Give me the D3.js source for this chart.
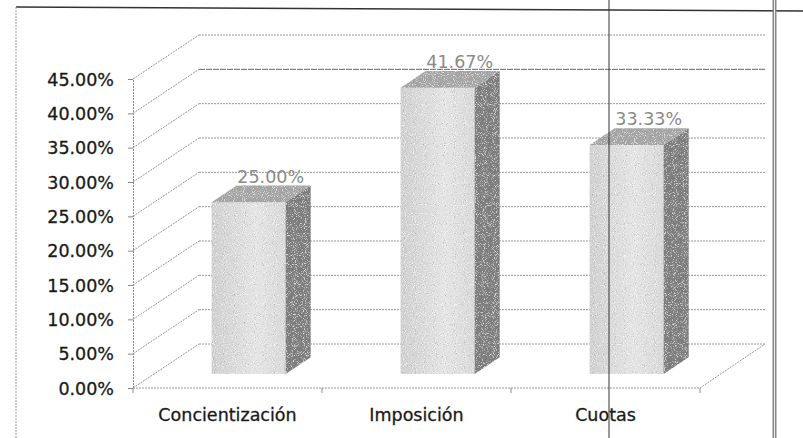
<!DOCTYPE html>
<html>
<head>
<meta charset="utf-8">
<script src="https://cdn.jsdelivr.net/npm/d3@7"></script>
<style>
  body { margin: 0; background: #fff; }
  text { font-family: "DejaVu Sans", sans-serif; }
</style>
</head>
<body>
<div id="wrapper"></div>
<script>
// data
const categories = ["Concientización", "Imposición", "Cuotas"]
const values = [0.25, 0.4167, 0.3333]
const valueLabels = ["25.00%", "41.67%", "33.33%"]
const yTicks = [0, 0.05, 0.10, 0.15, 0.20, 0.25, 0.30, 0.35, 0.40, 0.45]

const width = 803
const height = 438

// 3d depth offset of the back wall
const depth = { dx: 66, dy: -44 }
const barFront = 0.32, barBack = 0.70
const barHalf = 37

const svg = d3.select("#wrapper").append("svg")
  .attr("width", width)
  .attr("height", height)

const defs = svg.append("defs")

// speckle filter to look like the scanned halftone
const f = defs.append("filter").attr("id", "stipple")
  .attr("x", 0).attr("y", 0).attr("width", 1).attr("height", 1)
f.append("feTurbulence").attr("type", "fractalNoise")
  .attr("baseFrequency", 1.1).attr("numOctaves", 1).attr("seed", 3).attr("result", "noise")
f.append("feColorMatrix").attr("in", "noise").attr("type", "matrix")
  .attr("values", "0 0 0 0 1  0 0 0 0 1  0 0 0 0 1  3 0 0 0 -1.6")
  .attr("result", "light")
f.append("feColorMatrix").attr("in", "noise").attr("type", "matrix")
  .attr("values", "0 0 0 0 0.3  0 0 0 0 0.3  0 0 0 0 0.3  -3 0 0 0 1.2")
  .attr("result", "dark")
f.append("feComposite").attr("in", "light").attr("in2", "SourceGraphic").attr("operator", "in").attr("result", "l2")
f.append("feComposite").attr("in", "dark").attr("in2", "SourceGraphic").attr("operator", "in").attr("result", "d2")
const fm = f.append("feMerge")
fm.append("feMergeNode").attr("in", "SourceGraphic")
fm.append("feMergeNode").attr("in", "l2")
fm.append("feMergeNode").attr("in", "d2")

const frontGrad = defs.append("linearGradient").attr("id", "frontGrad")
  .attr("x1", 0).attr("x2", 1).attr("y1", 0).attr("y2", 0)
frontGrad.append("stop").attr("offset", "0%").attr("stop-color", "#cfcfcf")
frontGrad.append("stop").attr("offset", "60%").attr("stop-color", "#e4e4e4")
frontGrad.append("stop").attr("offset", "100%").attr("stop-color", "#d8d8d8")

// scales
const x = d3.scaleBand()
  .domain(categories)
  .range([133, 700])
  .padding(0)

const y = d3.scaleLinear()
  .domain([0, 0.45])
  .range([388, 79])

const gridColor = "#8a8a8a"

// back walls and gridlines
const grid = svg.append("g")
grid.selectAll(".wall")
  .data(yTicks)
  .join("polyline")
  .attr("class", "wall")
  .attr("points", d => {
    const y0 = y(d)
    return [[133, y0], [133 + depth.dx, y0 + depth.dy]].map(p => p.join(",")).join(" ")
  })
  .attr("fill", "none")
  .attr("stroke", gridColor)
  .attr("stroke-width", 0.9)
  .attr("stroke-dasharray", "2,1")

grid.selectAll(".back")
  .data(yTicks)
  .join("line")
  .attr("class", "back")
  .attr("x1", 133 + depth.dx).attr("x2", 765)
  .attr("y1", d => y(d) + depth.dy).attr("y2", d => y(d) + depth.dy)
  .attr("stroke", d => d === 0.40 ? "#555" : gridColor)
  .attr("stroke-width", 0.9)
  .attr("stroke-dasharray", d => d === 0.40 ? "6,1" : "2,1")

// floor
grid.append("polyline")
  .attr("points", `133,${y(0)} 700,${y(0)} ${700 + depth.dx - 1},${y(0) + depth.dy}`)
  .attr("fill", "none")
  .attr("stroke", gridColor)
  .attr("stroke-width", 0.9)
  .attr("stroke-dasharray", "2,1")

const catEdges = [133, ...categories.map(c => x(c) + x.bandwidth())]
grid.selectAll(".cat-tick")
  .data(catEdges)
  .join("line")
  .attr("x1", d => d).attr("x2", d => d)
  .attr("y1", y(0)).attr("y2", y(0) + 5)
  .attr("stroke", gridColor)

// y axis
const yAxis = svg.append("g")
  .attr("transform", "translate(133,0)")
  .call(d3.axisLeft(y).tickValues(yTicks).tickFormat(d3.format(".2%")).tickSize(5).tickPadding(14))
yAxis.select(".domain").attr("stroke", gridColor).attr("stroke-dasharray", "2,1")
yAxis.selectAll(".tick line").attr("stroke", gridColor)
yAxis.selectAll(".tick text")
  .attr("font-family", "DejaVu Sans")
  .attr("font-size", 17.5)
  .attr("fill", "#1a1a1a")
  .attr("stroke", "#1a1a1a")
  .attr("stroke-width", 0.3)
  .attr("dy", "0.36em")

// bars
const bars = svg.append("g").selectAll("g")
  .data(categories.map((c, i) => ({ cat: c, value: values[i], label: valueLabels[i] })))
  .join("g")

const fx = depth.dx * barFront, fy = depth.dy * barFront
const sx = depth.dx * (barBack - barFront), sy = depth.dy * (barBack - barFront)
const geo = d => {
  const cx = x(d.cat) + x.bandwidth() / 2 + fx
  return { x0: cx - barHalf, x1: cx + barHalf, yt: y(d.value) + fy, yb: y(0) + fy }
}

bars.append("rect")
  .attr("x", d => geo(d).x0)
  .attr("y", d => geo(d).yt)
  .attr("width", barHalf * 2)
  .attr("height", d => geo(d).yb - geo(d).yt)
  .attr("fill", "url(#frontGrad)")
  .attr("filter", "url(#stipple)")

bars.append("path")
  .attr("d", d => {
    const g = geo(d)
    return `M${g.x1},${g.yt} L${g.x1 + sx},${g.yt + sy} L${g.x1 + sx},${g.yb + sy} L${g.x1},${g.yb} Z`
  })
  .attr("fill", "#7c7c7c")
  .attr("filter", "url(#stipple)")

bars.append("path")
  .attr("d", d => {
    const g = geo(d)
    return `M${g.x0},${g.yt} L${g.x1},${g.yt} L${g.x1 + sx},${g.yt + sy} L${g.x0 + sx},${g.yt + sy} Z`
  })
  .attr("fill", "#a4a4a4")
  .attr("filter", "url(#stipple)")

bars.append("text")
  .attr("x", d => (geo(d).x0 + geo(d).x1) / 2 + sx - 3)
  .attr("y", d => geo(d).yt + sy - 3)
  .attr("text-anchor", "middle")
  .attr("font-size", 17.5)
  .attr("fill", "#8a8a8a")
  .text(d => d.label)

// category labels
svg.append("g").selectAll("text")
  .data(categories)
  .join("text")
  .attr("x", d => x(d) + x.bandwidth() / 2)
  .attr("y", 421)
  .attr("text-anchor", "middle")
  .attr("font-size", 17.5)
  .attr("fill", "#1a1a1a")
  .attr("stroke", "#1a1a1a")
  .attr("stroke-width", 0.3)
  .text(d => d)

// page borders from the scanned document
const page = svg.append("g")
page.append("line").attr("x1", 16).attr("y1", 7).attr("x2", 803).attr("y2", 11)
  .attr("stroke", "#333").attr("stroke-width", 1.5)
page.append("line").attr("x1", 16).attr("y1", 7).attr("x2", 16).attr("y2", height)
  .attr("stroke", "#999").attr("stroke-dasharray", "2,1")
page.append("line").attr("x1", 609).attr("y1", 0).attr("x2", 609).attr("y2", height)
  .attr("stroke", "#333").attr("stroke-width", 1)
page.append("line").attr("x1", 774.5).attr("y1", 0).attr("x2", 774.5).attr("y2", height)
  .attr("stroke", "#888").attr("stroke-width", 4)
page.append("line").attr("x1", 774.5).attr("y1", 0).attr("x2", 774.5).attr("y2", height)
  .attr("stroke", "#eee").attr("stroke-width", 1)
</script>
</body>
</html>
